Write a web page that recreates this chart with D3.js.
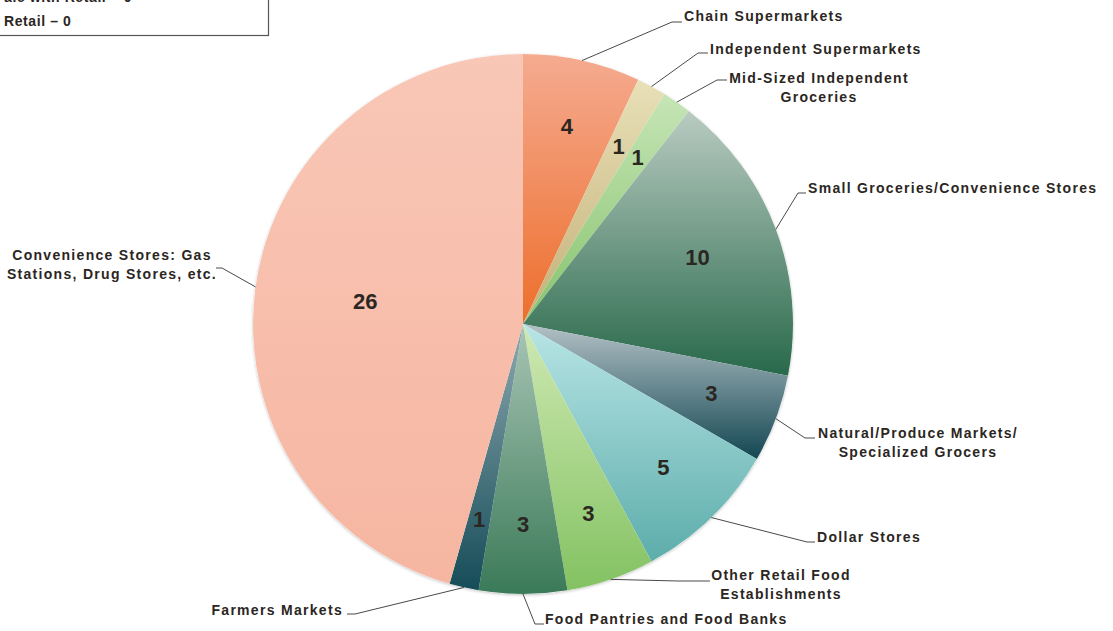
<!DOCTYPE html>
<html>
<head>
<meta charset="utf-8">
<script src="https://cdn.jsdelivr.net/npm/d3@7"></script>
<style>
  html, body { margin: 0; padding: 0; background: #ffffff; }
  svg { display: block; }
  text { font-family: "Liberation Sans", Arial, sans-serif; font-weight: bold; fill: #2b2622; }
</style>
</head>
<body>
<svg id="chart" width="1113" height="631"></svg>
<script>
// ---- data ----
const categories = [
  "Chain Supermarkets",
  "Independent Supermarkets",
  "Mid-Sized Independent Groceries",
  "Small Groceries/Convenience Stores",
  "Natural/Produce Markets/ Specialized Grocers",
  "Dollar Stores",
  "Other Retail Food Establishments",
  "Food Pantries and Food Banks",
  "Farmers Markets",
  "Convenience Stores: Gas Stations, Drug Stores, etc."
];
const values = [4, 1, 1, 10, 3, 5, 3, 3, 1, 26];
const labelLines = [
  ["Chain Supermarkets"],
  ["Independent Supermarkets"],
  ["Mid-Sized Independent", "Groceries"],
  ["Small Groceries/Convenience Stores"],
  ["Natural/Produce Markets/", "Specialized Grocers"],
  ["Dollar Stores"],
  ["Other Retail Food", "Establishments"],
  ["Food Pantries and Food Banks"],
  ["Farmers Markets"],
  ["Convenience Stores: Gas", "Stations, Drug Stores, etc."]
];
const legendLines = ["ale with Retail \u2013 0", "Retail \u2013 0"];

// ---- styles ----
const gradTop    = ["#f5ab90", "#e8e0b8", "#c6e5b6", "#b9cbc2", "#b3c1c6", "#b8e5e5", "#cfe9b3", "#a9c5b5", "#8ea9b0", "#f9c7b6"];
const gradBottom = ["#ed6e2c", "#c4b078", "#86c36c", "#28694a", "#134752", "#5cadab", "#83c262", "#3a7a58", "#154c58", "#f6b6a1"];

// ---- layout (label placement) ----
const cx = 523, cy = 324, R = 270;
const labelLayout = [
  { elbow: [672, 22],  end: [682, 22],  tx: 684, anchor: "start",  y0: 21 },
  { elbow: [698, 53],  end: [708, 53],  tx: 710, anchor: "start",  y0: 54 },
  { elbow: [717, 80],  end: [727, 80],  tx: 819, anchor: "middle", y0: 83 },
  { elbow: [798, 193], end: [806, 193], tx: 808, anchor: "start",  y0: 193 },
  { elbow: [805, 438], end: [815, 438], tx: 918, anchor: "middle", y0: 438 },
  { elbow: [807, 542], end: [815, 542], tx: 817, anchor: "start",  y0: 542 },
  { elbow: [678, 581], end: [710, 581], tx: 781, anchor: "middle", y0: 580 },
  { elbow: [535, 624], end: [544, 624], tx: 545, anchor: "start",  y0: 624 },
  { elbow: [355, 614], end: [347, 614], tx: 343, anchor: "end",    y0: 615 },
  { elbow: [222, 268], end: [216, 268], tx: 112, anchor: "middle", y0: 260 }
];
const valueLabelRatio = (v) => v >= 20 ? 0.59 : (v >= 10 ? 0.69 : 0.745);

const svg = d3.select("#chart");
const defs = svg.append("defs");

categories.forEach((c, i) => {
  const g = defs.append("linearGradient")
    .attr("id", "grad" + i)
    .attr("x1", 0).attr("y1", 0).attr("x2", 0).attr("y2", 1);
  g.append("stop").attr("offset", "0%").attr("stop-color", gradTop[i]);
  g.append("stop").attr("offset", "100%").attr("stop-color", gradBottom[i]);
});

const shadow = defs.append("filter").attr("id", "shadow")
  .attr("x", "-10%").attr("y", "-10%").attr("width", "120%").attr("height", "120%");
shadow.append("feDropShadow").attr("dx", 0).attr("dy", 1).attr("stdDeviation", 1.5)
  .attr("flood-color", "#000").attr("flood-opacity", 0.25);

const data = categories.map((c, i) => ({ category: c, value: values[i], i }));
const pie = d3.pie().sort(null).value(d => d.value).startAngle(0).endAngle(2 * Math.PI);
const arcs = pie(data);
const arc = d3.arc().innerRadius(0).outerRadius(R);

const g = svg.append("g").attr("transform", `translate(${cx},${cy})`);

g.append("circle").attr("r", R).attr("fill", "#ffffff").attr("filter", "url(#shadow)");

g.selectAll("path.slice")
  .data(arcs)
  .join("path")
  .attr("class", "slice")
  .attr("d", arc)
  .attr("fill", d => `url(#grad${d.data.i})`);

// value labels
g.selectAll("text.val")
  .data(arcs)
  .join("text")
  .attr("class", "val")
  .attr("transform", d => {
    const r = R * valueLabelRatio(d.data.value);
    const a = (d.startAngle + d.endAngle) / 2;
    return `translate(${r * Math.sin(a)},${-r * Math.cos(a)})`;
  })
  .attr("text-anchor", "middle")
  .attr("dy", "0.3em")
  .style("font-size", "22px")
  .text(d => d.data.value);

// leader lines
const lineGen = d3.line();
svg.selectAll("path.leader")
  .data(arcs)
  .join("path")
  .attr("class", "leader")
  .attr("d", d => {
    const a = (d.startAngle + d.endAngle) / 2;
    const p0 = [cx + R * Math.sin(a), cy - R * Math.cos(a)];
    const L = labelLayout[d.data.i];
    return lineGen([p0, L.elbow, L.end]);
  })
  .attr("fill", "none")
  .attr("stroke", "#4a4a4a")
  .attr("stroke-width", 1);

// category labels
svg.selectAll("text.cat")
  .data(arcs)
  .join("text")
  .attr("class", "cat")
  .attr("text-anchor", d => labelLayout[d.data.i].anchor)
  .style("font-size", "14px")
  .style("letter-spacing", "1.3px")
  .each(function (d) {
    const L = labelLayout[d.data.i];
    d3.select(this).selectAll("tspan")
      .data(labelLines[d.data.i])
      .join("tspan")
      .attr("x", L.tx)
      .attr("y", (t, k) => L.y0 + k * 19)
      .text(t => t);
  });

// partial legend box at top-left (cut off by the top edge, as in the reference)
svg.append("rect")
  .attr("x", -2).attr("y", -20)
  .attr("width", 270.5).attr("height", 55.5)
  .attr("fill", "#ffffff")
  .attr("stroke", "#555555")
  .attr("stroke-width", 1.2);
svg.selectAll("text.leg")
  .data(legendLines)
  .join("text")
  .attr("class", "leg")
  .attr("x", 4)
  .attr("y", (t, k) => 2 + k * 24)
  .style("font-size", "14px")
  .style("letter-spacing", "0.6px")
  .text(t => t);
</script>
</body>
</html>
